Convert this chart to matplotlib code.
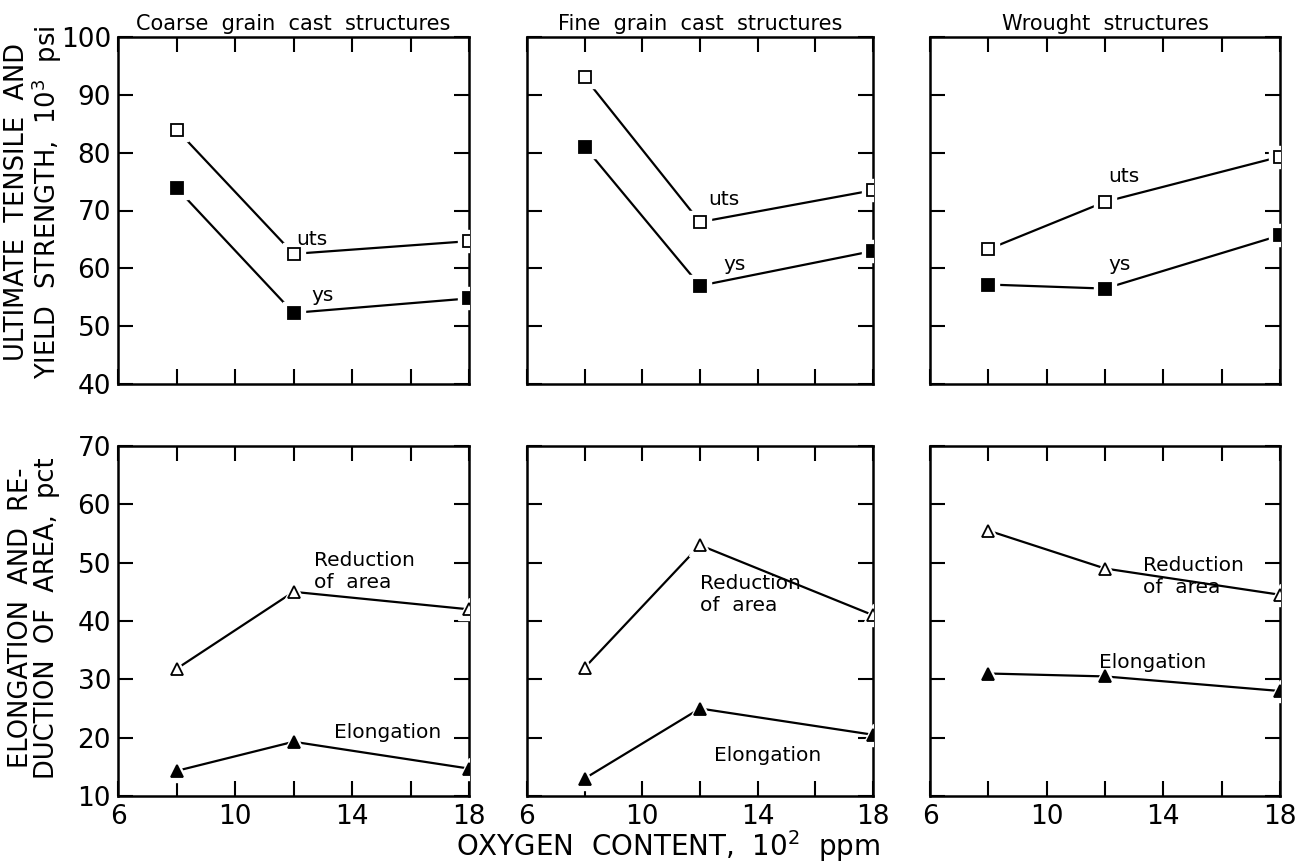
import matplotlib
matplotlib.use("Agg")
import matplotlib.pyplot as plt

plt.rcParams['font.family'] = ['DejaVu Sans']

# ---- data ----
oxygen = [8, 12, 18]  # 10^2 ppm

panel_titles = ["Coarse  grain  cast  structures", "Fine  grain  cast  structures", "Wrought  structures"]

uts_coarse = [84, 62.5, 64.7]
ys_coarse = [73.9, 52.3, 54.8]
uts_fine = [93, 68, 73.5]
ys_fine = [81, 57, 63]
uts_wrought = [63.3, 71.5, 79.3]
ys_wrought = [57.2, 56.5, 65.7]

ra_coarse = [31.8, 45, 42]
el_coarse = [14.3, 19.3, 14.7]
ra_fine = [32, 53, 41]
el_fine = [13, 25, 20.5]
ra_wrought = [55.5, 49, 44.5]
el_wrought = [31, 30.5, 28]

xticks = [6, 8, 10, 12, 14, 16, 18]
xticklabels = ["6", "", "10", "", "14", "", "18"]
yticks_top = [40, 50, 60, 70, 80, 90, 100]
yticks_bot = [10, 20, 30, 40, 50, 60, 70]

# annotation positions (data coords): (x, y)
top_labels = [
    {"uts": (12.1, 64.9), "ys": (12.6, 55.3)},
    {"uts": (12.3, 71.9), "ys": (12.8, 60.7)},
    {"uts": (12.1, 75.9), "ys": (12.1, 60.7)},
]
bot_labels = [
    {"ra": (12.7, 48.5), "el": (13.4, 20.9)},
    {"ra": (12.0, 44.6), "el": (12.5, 17.0)},
    {"ra": (13.3, 47.6), "el": (11.8, 32.8)},
]

top_data = [(uts_coarse, ys_coarse), (uts_fine, ys_fine), (uts_wrought, ys_wrought)]
bot_data = [(ra_coarse, el_coarse), (ra_fine, el_fine), (ra_wrought, el_wrought)]

W, H = 1303, 866
fig = plt.figure(figsize=(W / 100, H / 100), dpi=100)

col_px = [(118, 469), (527, 873), (930, 1280)]
top_px = (37, 384)
bot_px = (446, 796)


def make_ax(xpx, ypx):
    l = xpx[0] / W
    w = (xpx[1] - xpx[0]) / W
    b = 1 - ypx[1] / H
    h = (ypx[1] - ypx[0]) / H
    return fig.add_axes([l, b, w, h])


def series(ax, y, marker, filled, ms):
    ax.plot(oxygen, y, color='black', lw=1.6, zorder=2, solid_capstyle='butt')
    ax.plot(oxygen, y, ls='none', marker=marker, ms=ms + 7, mfc='white', mec='white', zorder=3)
    ax.plot(oxygen, y, ls='none', marker=marker, ms=ms,
            mfc='black' if filled else 'white', mec='black', mew=1.3, zorder=4)


def style(ax, yticks, show_xlabels, show_ylabels):
    ax.set_xlim(6, 18)
    ax.set_ylim(yticks[0], yticks[-1])
    ax.set_xticks(xticks)
    ax.set_yticks(yticks)
    if show_xlabels:
        ax.set_xticklabels(xticklabels)
    else:
        ax.set_xticklabels([])
    if not show_ylabels:
        ax.set_yticklabels([])
    ax.tick_params(direction='in', length=11, width=1.5, top=True, right=True,
                   labelsize=19)
    ax.tick_params(axis='x', pad=6)
    ax.tick_params(axis='y', pad=5)
    for s in ax.spines.values():
        s.set_linewidth(1.8)


for i in range(3):
    ax = make_ax(col_px[i], top_px)
    uts, ys = top_data[i]
    series(ax, uts, 's', False, 9)
    series(ax, ys, 's', True, 9)
    style(ax, yticks_top, False, i == 0)
    ax.text(*top_labels[i]["uts"], "uts", fontsize=14.5, ha='left', va='center')
    ax.text(*top_labels[i]["ys"], "ys", fontsize=14.5, ha='left', va='center')
    ax.set_title(panel_titles[i], fontsize=15, pad=5)

    ax2 = make_ax(col_px[i], bot_px)
    ra, el = bot_data[i]
    series(ax2, ra, '^', False, 9)
    series(ax2, el, '^', True, 9)
    style(ax2, yticks_bot, True, i == 0)
    ax2.text(*bot_labels[i]["ra"], "Reduction\nof  area", fontsize=14.5, ha='left', va='center',
             linespacing=1.2)
    ax2.text(*bot_labels[i]["el"], "Elongation", fontsize=14.5, ha='left', va='center')

fig.text(34 / W, 1 - 202 / H, "ULTIMATE  TENSILE  AND\nYIELD  STRENGTH,  10$^3$  psi",
         rotation=90, ha='center', va='center', fontsize=18.5, linespacing=1.0,
         multialignment='center')
fig.text(34 / W, 1 - 618 / H, "ELONGATION  AND  RE-\nDUCTION  OF  AREA,  pct",
         rotation=90, ha='center', va='center', fontsize=18.5, linespacing=1.0,
         multialignment='center')
fig.text(668 / W, 1 - 846 / H, "OXYGEN  CONTENT,  10$^2$  ppm", ha='center', va='center',
         fontsize=20)

fig.savefig("out.png", dpi=100)
